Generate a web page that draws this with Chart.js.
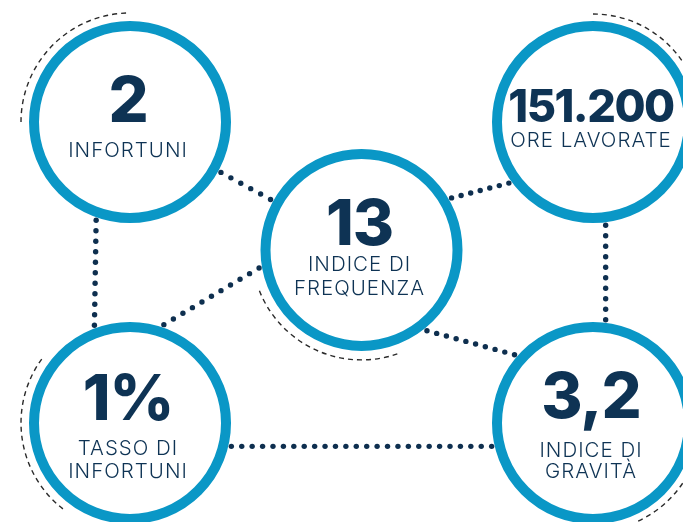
<!DOCTYPE html>
<html lang="it">
<head>
    <meta charset="UTF-8">
    <title>Infortuni - indicatori</title>
    <script src="https://cdn.jsdelivr.net/npm/chart.js@4"></script>
    <style>
        body { margin: 0; background: #fff; }
        canvas { display: block; }
    </style>
</head>
<body>
    <canvas id="infoChart" width="683" height="522"></canvas>

    <script>
        // values and captions, one entry per circle
        const values = ['2', '151.200', '13', '1%', '3,2'];
        const captions = [
            ['INFORTUNI'],
            ['ORE LAVORATE'],
            ['INDICE DI', 'FREQUENZA'],
            ['TASSO DI', 'INFORTUNI'],
            ['INDICE DI', 'GRAVITÀ']
        ];

        // layout: grid column / row of each circle
        const cols = [-1, 1, 0, -1, 1];
        const rows = [0, 0, 0.85, 2, 2];

        // dotted links: [from, to, angle on from, angle on to] (degrees)
        const links = [
            [0, 2, 29, 209],
            [2, 1, -30, 144],
            [2, 3, 170, -71],
            [2, 4, 51, 221],
            [0, 3, 109, 250],
            [1, 4, 83, 277],
            [3, 4, 13, 167]
        ];
        // dashed arcs: [circle, start, end, radius]
        const arcs = [
            [0, 180, 270, 109],
            [1, 270, 360, 108],
            [2, 71, 160, 110],
            [3, 128, 217, 109],
            [4, 10, 90, 108]
        ];
        // text placement relative to centre: number baseline, caption baselines, number size
        const textPos = [
            { num: 0, caps: [35], size: 63, sp: -1 },
            { num: 0, caps: [25], size: 45, sp: -1.5 },
            { num: -5, caps: [21, 45], size: 63, sp: -1 },
            { num: -3, caps: [32, 55], size: 63, sp: -1 },
            { num: -5, caps: [34, 55], size: 63, sp: -1 }
        ];

        const RING = '#0a97c6';
        const NAVY = '#0e3354';
        const R = 96, RING_W = 10;
        const rad = d => d * Math.PI / 180;

        const decor = {
            id: 'decor',
            beforeDatasetsDraw(chart) {
                const ctx = chart.ctx;
                const pts = chart.getDatasetMeta(0).data;
                const outer = R + RING_W / 2 + 3;
                ctx.save();
                // dotted connectors
                ctx.fillStyle = '#0e2f4f';
                links.forEach(([a, b, aa, ab]) => {
                    const x1 = pts[a].x + outer * Math.cos(rad(aa)), y1 = pts[a].y + outer * Math.sin(rad(aa));
                    const x2 = pts[b].x + outer * Math.cos(rad(ab)), y2 = pts[b].y + outer * Math.sin(rad(ab));
                    const len = Math.hypot(x2 - x1, y2 - y1);
                    const n = Math.round(len / 10.6);
                    for (let i = 0; i <= n; i++) {
                        ctx.beginPath();
                        ctx.arc(x1 + (x2 - x1) * i / n, y1 + (y2 - y1) * i / n, 2.7, 0, Math.PI * 2);
                        ctx.fill();
                    }
                });
                // dashed arcs
                ctx.strokeStyle = '#2a2a2a';
                ctx.lineWidth = 1.4;
                ctx.setLineDash([5, 4]);
                arcs.forEach(([i, s, e, r]) => {
                    ctx.beginPath();
                    ctx.arc(pts[i].x, pts[i].y, r, rad(s), rad(e));
                    ctx.stroke();
                });
                ctx.restore();
            },
            afterDatasetsDraw(chart) {
                const ctx = chart.ctx;
                const pts = chart.getDatasetMeta(0).data;
                ctx.save();
                ctx.fillStyle = NAVY;
                ctx.textAlign = 'center';
                ctx.textBaseline = 'alphabetic';
                pts.forEach((p, i) => {
                    const t = textPos[i];
                    ctx.letterSpacing = t.sp + 'px';
                    ctx.font = '800 ' + t.size + 'px Inter';
                    ctx.fillText(values[i], p.x - 2, p.y + t.num);
                    ctx.letterSpacing = '1px';
                    ctx.font = '300 20.5px Inter';
                    captions[i].forEach((line, k) => {
                        ctx.fillText(line, p.x - 2, p.y + t.caps[k]);
                    });
                });
                ctx.restore();
            }
        };

        const ctx = document.getElementById('infoChart').getContext('2d');
        const chart = new Chart(ctx, {
            type: 'bubble',
            data: {
                datasets: [{
                    data: values.map((v, i) => ({ x: cols[i], y: rows[i], r: R })),
                    backgroundColor: '#fff',
                    borderColor: RING,
                    borderWidth: RING_W,
                    hoverBorderWidth: RING_W,
                    hoverRadius: 0,
                    clip: false
                }]
            },
            options: {
                responsive: false,
                animation: false,
                events: [],
                layout: { padding: 0, autoPadding: false },
                plugins: { legend: { display: false }, tooltip: { enabled: false } },
                scales: {
                    x: { type: 'linear', display: false, min: -1.5616, max: 1.3888 },
                    y: { type: 'linear', display: false, min: -0.8106, max: 2.658, reverse: true }
                }
            },
            plugins: [decor]
        });
    </script>
</body>
</html>
